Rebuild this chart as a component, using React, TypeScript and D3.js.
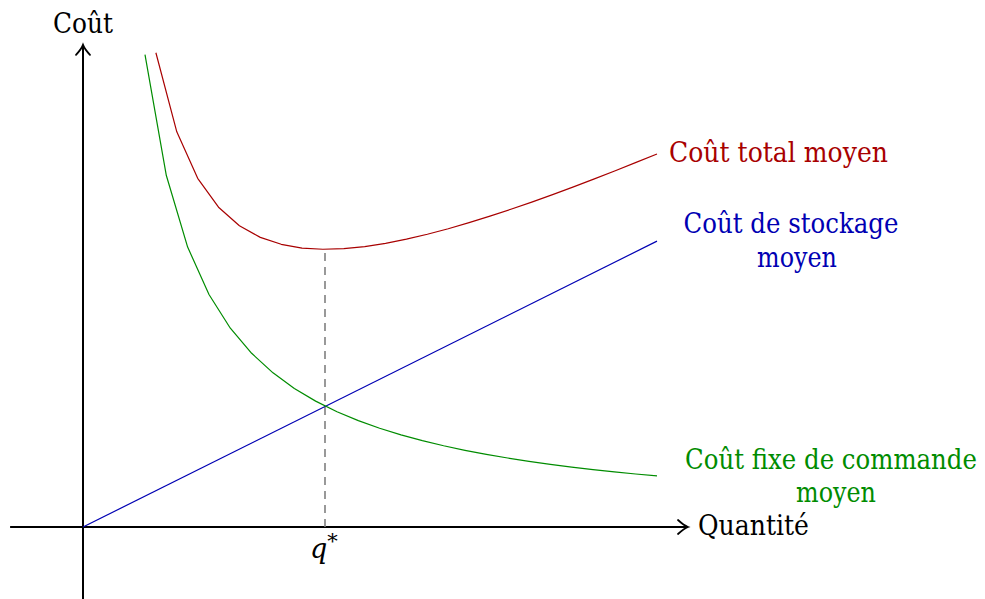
import React, { useEffect, useRef } from "react";
import * as d3 from "d3";

const GREEN_X = [1.08, 1.452, 1.823, 2.195, 2.567, 2.938, 3.31, 3.682, 4.053, 4.425, 4.797, 5.168, 5.54, 5.912, 6.283, 6.655, 7.027, 7.398, 7.77, 8.142, 8.513, 8.885, 9.257, 9.628, 10];
const GREEN_Y = [8.231, 6.123, 4.877, 4.05, 3.463, 3.026, 2.686, 2.414, 2.193, 2.009, 1.853, 1.72, 1.605, 1.504, 1.415, 1.336, 1.265, 1.202, 1.144, 1.092, 1.044, 1.001, 0.96, 0.923, 0.889];

const RED_X = [1.27, 1.634, 1.998, 2.361, 2.725, 3.089, 3.453, 3.816, 4.18, 4.544, 4.908, 5.271, 5.635, 5.999, 6.363, 6.726, 7.09, 7.454, 7.818, 8.181, 8.545, 8.909, 9.273, 9.636, 10];
const RED_Y = [8.262, 6.885, 6.075, 5.571, 5.249, 5.046, 4.925, 4.86, 4.839, 4.849, 4.885, 4.942, 5.014, 5.1, 5.196, 5.302, 5.415, 5.535, 5.66, 5.791, 5.925, 6.065, 6.207, 6.352, 6.499];

const BLUE_X = [0, 10];
const BLUE_Y = [0, 4.98];

const Q_STAR = 4.216;
const Q_STAR_TOP = 4.845;

const X_AXIS = [-1.27, 10.54];
const Y_AXIS = [-1.3, 8.4];

const RED = "#a80000";
const BLUE = "#0000b3";
const GREEN = "#008c00";
const FONT = "DejaVu Serif";

const App = () => {
    const ref = useRef<SVGSVGElement>(null);

    useEffect(() => {
        document.body.style.margin = "0";
        const svg = d3.select(ref.current).html("");

        const unit = 57.4;
        const x = d3.scaleLinear().domain([0, 10]).range([83, 83 + 10 * unit]);
        const y = d3.scaleLinear().domain([0, 10]).range([527, 527 - 10 * unit]);

        const line = d3.line<[number, number]>()
            .x((d) => x(d[0]))
            .y((d) => y(d[1]));

        // axes
        const arrow = (tx: number, ty: number, dir: "right" | "up") => {
            const p = d3.path();
            if (dir === "right") {
                p.moveTo(tx - 10, ty - 7);
                p.quadraticCurveTo(tx - 4, ty - 1.5, tx, ty);
                p.quadraticCurveTo(tx - 4, ty + 1.5, tx - 10, ty + 7);
            } else {
                p.moveTo(tx - 7, ty + 10);
                p.quadraticCurveTo(tx - 1.5, ty + 4, tx, ty);
                p.quadraticCurveTo(tx + 1.5, ty + 4, tx + 7, ty + 10);
            }
            return p.toString();
        };

        svg.append("line")
            .attr("x1", x(X_AXIS[0])).attr("x2", x(X_AXIS[1]))
            .attr("y1", y(0)).attr("y2", y(0))
            .attr("stroke", "black").attr("stroke-width", 2);
        svg.append("path")
            .attr("d", arrow(x(X_AXIS[1]), y(0), "right"))
            .attr("fill", "none").attr("stroke", "black")
            .attr("stroke-width", 1.8).attr("stroke-linecap", "round");

        svg.append("line")
            .attr("x1", x(0)).attr("x2", x(0))
            .attr("y1", y(Y_AXIS[0])).attr("y2", y(Y_AXIS[1]))
            .attr("stroke", "black").attr("stroke-width", 2);
        svg.append("path")
            .attr("d", arrow(x(0), y(Y_AXIS[1]), "up"))
            .attr("fill", "none").attr("stroke", "black")
            .attr("stroke-width", 1.8).attr("stroke-linecap", "round");

        // q* guide
        svg.append("line")
            .attr("x1", x(Q_STAR)).attr("x2", x(Q_STAR))
            .attr("y1", y(0)).attr("y2", y(Q_STAR_TOP))
            .attr("stroke", "#808080").attr("stroke-width", 1.6)
            .attr("stroke-dasharray", "8 6");

        // curves
        const curves = [
            { xs: BLUE_X, ys: BLUE_Y, color: BLUE },
            { xs: GREEN_X, ys: GREEN_Y, color: GREEN },
            { xs: RED_X, ys: RED_Y, color: RED },
        ];
        curves.forEach((c) => {
            svg.append("path")
                .attr("d", line(c.xs.map((v, i) => [v, c.ys[i]] as [number, number])))
                .attr("fill", "none")
                .attr("stroke", c.color)
                .attr("stroke-width", 1.2)
                .attr("stroke-linejoin", "round");
        });

        // labels: squeeze horizontally to the width seen in the reference
        const label = (txt: string, lx: number, ly: number, color: string, anchor: string, len: number) => {
            const t = svg.append("text")
                .attr("fill", color)
                .style("font-family", FONT)
                .style("font-size", "27px")
                .attr("text-anchor", anchor)
                .text(txt);
            const w = (t.node() as SVGTextElement).getComputedTextLength() || len;
            t.attr("transform", `translate(${lx},${ly}) scale(${len / w},1)`);
        };

        label("Coût", 83, 33, "black", "middle", 60);
        label("Quantité", 698, 535, "black", "start", 111);
        label("Coût total moyen", 669, 162, RED, "start", 219);
        label("Coût de stockage", 791, 233, BLUE, "middle", 215);
        label("moyen", 797, 267, BLUE, "middle", 80);
        label("Coût fixe de commande", 831, 469, GREEN, "middle", 292);
        label("moyen", 836, 502, GREEN, "middle", 80);

        const q = svg.append("text")
            .attr("x", 310).attr("y", 558)
            .style("font-family", FONT)
            .style("font-size", "27px")
            .style("font-style", "italic");
        q.append("tspan").text("q");
        q.append("tspan")
            .style("font-size", "21px")
            .style("font-style", "normal")
            .attr("dy", -10)
            .text("*");
    }, []);

    return <svg ref={ref} width={985} height={599} style={{ display: "block" }} />;
};

export default App;
